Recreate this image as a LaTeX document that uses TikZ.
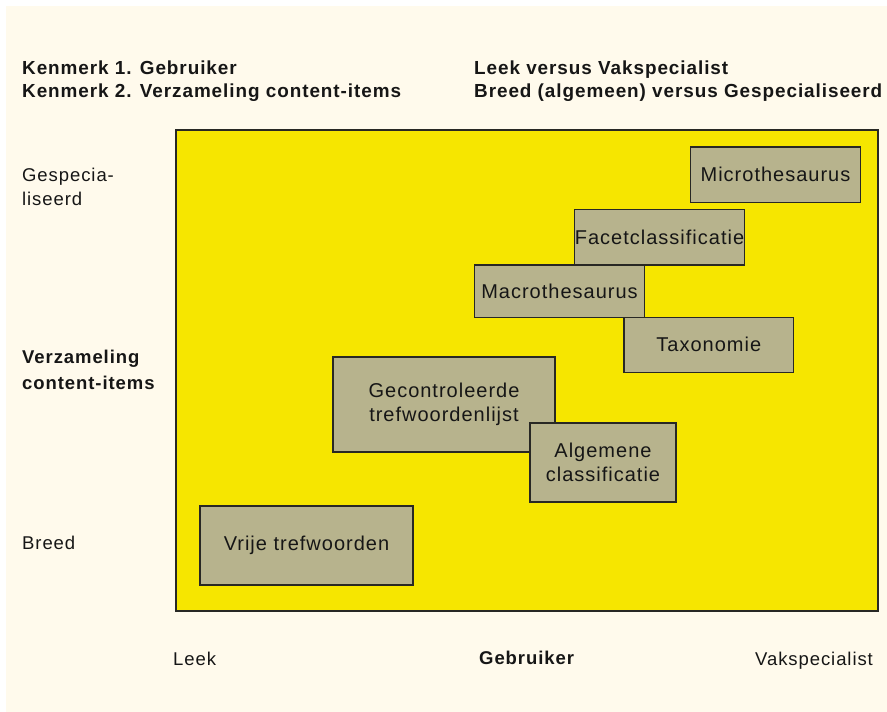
\documentclass[tikz,border=0pt]{standalone}
\usepackage{fontspec}
\setmainfont{Liberation Sans}[LetterSpace=5]
\definecolor{cream}{RGB}{255,250,236}
\definecolor{plane}{RGB}{246,230,0}
\definecolor{boxfill}{RGB}{183,179,141}
\definecolor{edge}{RGB}{40,40,36}
\definecolor{ink}{RGB}{22,22,22}
\begin{document}
\begin{tikzpicture}[x=1pt,y=-1pt,
  item/.style={draw=edge,line width=1.4pt,fill=boxfill,inner sep=0pt,align=center,
     text=ink,font=\fontsize{20}{24.3}\selectfont},
  head/.style={anchor=base west,inner sep=0pt,text=ink,font=\fontsize{18.9}{23.3}\selectfont\bfseries},
  lab/.style={anchor=base west,inner sep=0pt,text=ink,align=left,font=\fontsize{18.5}{23.3}\selectfont},
  blab/.style={lab,font=\fontsize{18.5}{25.7}\selectfont\bfseries}]
\useasboundingbox (0,0) rectangle (887,712);
\fill[cream] (6,6) rectangle (887,712);
\node[draw=edge,line width=1.8pt,fill=plane,minimum width=702pt,minimum height=481pt,inner sep=0pt] (field) at (527,370.5) {};
% headings
\node[head] (h1) at (22,74) {Kenmerk 1. Gebruiker};
\node[head] (h2) at (22,97.3) {Kenmerk 2. Verzameling content-items};
\node[head] (h3) at (474,74) {Leek versus Vakspecialist};
\node[head] (h4) at (474,97.3) {Breed (algemeen) versus Gespecialiseerd};
% axis labels (base anchor = last line)
\node[lab] (gesp) at (22,205) {Gespecia-\\liseerd};
\node[blab] (verz) at (22,389) {Verzameling\\content-items};
\node[lab] (breed) at (22,549.3) {Breed};
\node[lab] (leek) at (173,665.3) {Leek};
\node[lab,font=\fontsize{18.5}{23.3}\selectfont\bfseries] (gebr) at (479,664.8) {Gebruiker};
\node[lab] (vak) at (755,665) {Vakspecialist};
% boxes
\node[item,minimum width=213pt,minimum height=79pt] (vrij) at (306.5,545.5) {Vrije trefwoorden};
\node[item,minimum width=222pt,minimum height=95pt] (geco) at (444,404.5) {Gecontroleerde\\trefwoordenlijst};
\node[item,minimum width=146pt,minimum height=79pt] (alg) at (603,462.5) {Algemene\\classificatie};
\node[item,minimum width=169.7pt,minimum height=55pt] (tax) at (708.8,344.8) {Taxonomie};
\node[item,minimum width=169.6pt,minimum height=55.3pt] (facet) at (659.5,237.3) {Facetclassificatie};
\node[item,minimum width=169.6pt,minimum height=52.3pt] (macro) at (559.5,291.2) {Macrothesaurus};
\node[item,minimum width=169.6pt,minimum height=55.3pt] (micro) at (775.5,174.7) {Microthesaurus};
\end{tikzpicture}
\end{document}
